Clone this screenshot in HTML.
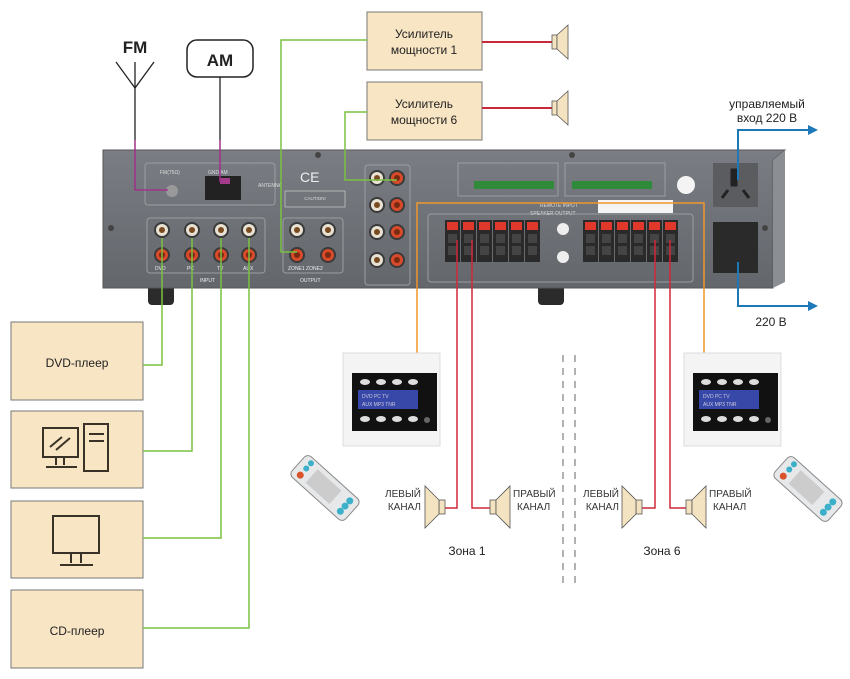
<!DOCTYPE html>
<html><head><meta charset="utf-8"><style>
html,body{margin:0;padding:0;background:#fff;}
svg{display:block;font-family:"Liberation Sans","DejaVu Sans",sans-serif;}
</style></head><body>
<svg width="850" height="679" viewBox="0 0 850 679" xmlns="http://www.w3.org/2000/svg">
<defs>
<linearGradient id="body" x1="0" y1="0" x2="0" y2="1"><stop offset="0" stop-color="#7a7e84"/><stop offset="1" stop-color="#63676c"/></linearGradient>
<g id="rcaW"><circle r="8" fill="#3a3a3a"/><circle r="6" fill="#e8e2d4"/><circle r="3" fill="#7a4a20"/></g>
<g id="rcaR"><circle r="8" fill="#3a3a3a"/><circle r="6" fill="#d84a2a"/><circle r="3" fill="#7a2a10"/></g>
<g id="term"><rect x="0" y="0" width="15" height="42" fill="#2a2a2a"/><rect x="2" y="2" width="11" height="8" fill="#e0392b"/><rect x="3" y="14" width="9" height="9" fill="#444"/><rect x="3" y="26" width="9" height="9" fill="#444"/></g>
<g id="spkL"><rect x="14" y="8" width="6" height="14" fill="#f3e3c0" stroke="#555" stroke-width="0.8"/><path d="M14 8 L0 -6 L0 36 L14 22 Z" fill="#f3e3c0" stroke="#555" stroke-width="0.8"/></g>
<g id="spkR"><rect x="0" y="8" width="6" height="14" fill="#f3e3c0" stroke="#555" stroke-width="0.8"/><path d="M6 8 L20 -6 L20 36 L6 22 Z" fill="#f3e3c0" stroke="#555" stroke-width="0.8"/></g>
<g id="ctrl">
<rect x="0" y="0" width="97" height="93" fill="#f4f4f4" stroke="#ddd"/>
<rect x="9" y="20" width="85" height="58" fill="#111"/>
<ellipse cx="22" cy="29" rx="5" ry="3" fill="#ddd"/><ellipse cx="38" cy="29" rx="5" ry="3" fill="#ddd"/><ellipse cx="54" cy="29" rx="5" ry="3" fill="#ddd"/><ellipse cx="70" cy="29" rx="5" ry="3" fill="#ddd"/>
<rect x="15" y="37" width="60" height="19" fill="#3848a8"/>
<text x="19" y="45" font-size="5" fill="#ccd">DVD  PC  TV</text><text x="19" y="53" font-size="5" fill="#ccd">AUX MP3 TNR</text>
<ellipse cx="22" cy="66" rx="5" ry="3" fill="#ddd"/><ellipse cx="38" cy="66" rx="5" ry="3" fill="#ddd"/><ellipse cx="54" cy="66" rx="5" ry="3" fill="#ddd"/><ellipse cx="70" cy="66" rx="5" ry="3" fill="#ddd"/><circle cx="84" cy="67" r="3" fill="#666"/>
</g>
<g id="remote"><rect x="-14" y="-36" width="28" height="72" rx="5" fill="#e6e8ea" stroke="#888"/>
<circle cx="-7" cy="-27" r="3.5" fill="#d9542c"/><circle cx="2" cy="-27" r="3" fill="#3bb0c8"/><circle cx="9" cy="-27" r="3" fill="#3bb0c8"/>
<rect x="-9" y="-18" width="18" height="32" fill="#ccc"/>
<circle cx="-7" cy="27" r="3.5" fill="#3bb0c8"/><circle cx="0" cy="27" r="3.5" fill="#3bb0c8"/><circle cx="7" cy="27" r="3.5" fill="#3bb0c8"/></g>
</defs>

<rect x="367" y="12" width="115" height="58" fill="#f8e5c4" stroke="#777"/>
<text x="424" y="38" font-size="12" text-anchor="middle" fill="#222">Усилитель</text>
<text x="424" y="54" font-size="12" text-anchor="middle" fill="#222">мощности 1</text>
<rect x="367" y="82" width="115" height="58" fill="#f8e5c4" stroke="#777"/>
<text x="424" y="108" font-size="12" text-anchor="middle" fill="#222">Усилитель</text>
<text x="424" y="124" font-size="12" text-anchor="middle" fill="#222">мощности 6</text>
<line x1="482" y1="42" x2="552" y2="42" stroke="#c8283a" stroke-width="2"/>
<line x1="482" y1="108" x2="552" y2="108" stroke="#c8283a" stroke-width="2"/>
<g transform="translate(552,29)"><rect x="0" y="6" width="5" height="14" fill="#f3e3c0" stroke="#555" stroke-width="0.8"/><path d="M5 6 L16 -4 L16 30 L5 20Z" fill="#f3e3c0" stroke="#555" stroke-width="0.8"/></g>
<g transform="translate(552,95)"><rect x="0" y="6" width="5" height="14" fill="#f3e3c0" stroke="#555" stroke-width="0.8"/><path d="M5 6 L16 -4 L16 30 L5 20Z" fill="#f3e3c0" stroke="#555" stroke-width="0.8"/></g>

<text x="135" y="53" font-size="17" font-weight="bold" text-anchor="middle" fill="#222">FM</text>
<path d="M116 62 L135 88 L154 62" fill="none" stroke="#222" stroke-width="1.3"/>
<line x1="135" y1="62" x2="135" y2="88" stroke="#222" stroke-width="1.3"/>
<line x1="135" y1="88" x2="135" y2="140" stroke="#222" stroke-width="1.3"/>
<rect x="187" y="40" width="66" height="37" rx="10" fill="#fff" stroke="#222" stroke-width="1.5"/>
<text x="220" y="66" font-size="17" font-weight="bold" text-anchor="middle" fill="#222">AM</text>
<line x1="220" y1="77" x2="220" y2="140" stroke="#222" stroke-width="1.3"/>

<text x="767" y="108" font-size="12" text-anchor="middle" fill="#222">управляемый</text>
<text x="767" y="122" font-size="12" text-anchor="middle" fill="#222">вход 220 В</text>
<text x="771" y="326" font-size="12" text-anchor="middle" fill="#222">220 В</text>

<rect x="148" y="285" width="26" height="20" rx="4" fill="#2b2b2b"/>
<rect x="538" y="285" width="26" height="20" rx="4" fill="#2b2b2b"/>
<path d="M103 150 L785 150 L773 160 L773 288 L103 288 Z" fill="url(#body)" stroke="#555"/>
<path d="M773 160 L785 150 L785 282 L773 288Z" fill="#8b8f94"/>
<rect x="145" y="163" width="130" height="42" rx="3" fill="none" stroke="#9a9ea2"/>
<text x="160" y="174" font-size="5" fill="#ddd">FM(75Ω)</text><text x="208" y="174" font-size="5" fill="#ddd">GND  AM</text>
<text x="258" y="187" font-size="5" fill="#ddd">ANTENNA</text>
<circle cx="172" cy="191" r="6" fill="#999"/><rect x="205" y="176" width="36" height="24" fill="#222"/><rect x="220" y="178" width="10" height="6" fill="#a43a8a"/>
<text x="300" y="182" font-size="14" fill="#eee">CE</text>
<rect x="285" y="191" width="60" height="16" fill="none" stroke="#ccc" stroke-width="0.7"/>
<text x="315" y="200" font-size="4.5" fill="#ddd" text-anchor="middle">CAUTION!</text>
<rect x="147" y="218" width="118" height="55" rx="3" fill="none" stroke="#9a9ea2"/>
<rect x="283" y="218" width="60" height="55" rx="3" fill="none" stroke="#9a9ea2"/>
<rect x="365" y="165" width="45" height="120" rx="3" fill="none" stroke="#9a9ea2"/>
<use href="#rcaW" x="162" y="230"/><use href="#rcaR" x="162" y="255"/>
<use href="#rcaW" x="192" y="230"/><use href="#rcaR" x="192" y="255"/>
<use href="#rcaW" x="221" y="230"/><use href="#rcaR" x="221" y="255"/>
<use href="#rcaW" x="249" y="230"/><use href="#rcaR" x="249" y="255"/>
<use href="#rcaW" x="297" y="230"/><use href="#rcaR" x="297" y="255"/>
<use href="#rcaW" x="328" y="230"/><use href="#rcaR" x="328" y="255"/>
<use href="#rcaW" x="377" y="178"/><use href="#rcaR" x="397" y="178"/>
<use href="#rcaW" x="377" y="205"/><use href="#rcaR" x="397" y="205"/>
<use href="#rcaW" x="377" y="232"/><use href="#rcaR" x="397" y="232"/>
<use href="#rcaW" x="377" y="260"/><use href="#rcaR" x="397" y="260"/>
<text x="155" y="270" font-size="5" fill="#eee">DVD</text><text x="187" y="270" font-size="5" fill="#eee">PC</text><text x="217" y="270" font-size="5" fill="#eee">TV</text><text x="243" y="270" font-size="5" fill="#eee">AUX</text>
<text x="200" y="282" font-size="5" fill="#eee">INPUT</text><text x="300" y="282" font-size="5" fill="#eee">OUTPUT</text>
<text x="288" y="270" font-size="5" fill="#eee">ZONE1  ZONE2</text>
<rect x="458" y="163" width="100" height="33" fill="none" stroke="#9a9ea2"/>
<rect x="565" y="163" width="100" height="33" fill="none" stroke="#9a9ea2"/>
<rect x="474" y="181" width="80" height="8" fill="#2f8a3a"/><rect x="572" y="181" width="80" height="8" fill="#2f8a3a"/>
<text x="540" y="207" font-size="5" fill="#ddd">REMOTE INPUT</text>
<text x="530" y="215" font-size="5" fill="#ddd">SPEAKER OUTPUT</text>
<rect x="598" y="200" width="75" height="13" fill="#f4f4f4"/>
<rect x="428" y="214" width="265" height="68" rx="3" fill="none" stroke="#9a9ea2"/>
<g><use href="#term" x="445" y="220"/><use href="#term" x="461" y="220"/><use href="#term" x="477" y="220"/><use href="#term" x="493" y="220"/><use href="#term" x="509" y="220"/><use href="#term" x="525" y="220"/></g>
<g><use href="#term" x="583" y="220"/><use href="#term" x="599" y="220"/><use href="#term" x="615" y="220"/><use href="#term" x="631" y="220"/><use href="#term" x="647" y="220"/><use href="#term" x="663" y="220"/></g>
<circle cx="563" cy="229" r="6" fill="#eee"/><circle cx="563" cy="257" r="6" fill="#eee"/>
<circle cx="686" cy="185" r="9" fill="#f4f4f4"/>
<rect x="713" y="163" width="45" height="44" fill="#5a5c5f"/>
<path d="M732 170 L736 170 L736 185 L732 185Z M722 198 L728 190 M749 198 L743 190" stroke="#222" stroke-width="3" fill="#222"/>
<rect x="713" y="222" width="45" height="51" fill="#2a2a2a"/>
<circle cx="111" cy="228" r="3" fill="#444"/><circle cx="765" cy="228" r="3" fill="#444"/><circle cx="318" cy="155" r="3" fill="#444"/><circle cx="572" cy="155" r="3" fill="#444"/>

<polyline points="135,140 135,190 168,190" fill="none" stroke="#a0308a" stroke-width="1.5"/>
<polyline points="220,140 220,182" fill="none" stroke="#a0308a" stroke-width="1.5"/>
<polyline points="367,40 281,40 281,252 297,252" fill="none" stroke="#7ac142" stroke-width="1.5"/>
<polyline points="367,112 345,112 345,180 397,180" fill="none" stroke="#7ac142" stroke-width="1.5"/>
<rect x="11" y="322" width="132" height="78" fill="#f8e5c4" stroke="#777"/>
<text x="77" y="367" font-size="12" text-anchor="middle" fill="#222">DVD-плеер</text>
<rect x="11" y="411" width="132" height="77" fill="#f8e5c4" stroke="#777"/>
<rect x="11" y="501" width="132" height="77" fill="#f8e5c4" stroke="#777"/>
<rect x="11" y="590" width="132" height="78" fill="#f8e5c4" stroke="#777"/>
<text x="77" y="635" font-size="12" text-anchor="middle" fill="#222">CD-плеер</text>
<g fill="none" stroke="#3a3226" stroke-width="2">
<rect x="43" y="428" width="35" height="29"/><line x1="56" y1="457" x2="56" y2="465"/><line x1="64" y1="457" x2="64" y2="465"/><line x1="46" y1="467" x2="77" y2="467"/>
<line x1="50" y1="447" x2="62" y2="437"/><line x1="56" y1="450" x2="70" y2="438"/>
<rect x="84" y="424" width="24" height="47"/><line x1="89" y1="434" x2="104" y2="434"/><line x1="89" y1="441" x2="104" y2="441"/>
<rect x="53" y="516" width="46" height="37"/><line x1="71" y1="553" x2="71" y2="563"/><line x1="81" y1="553" x2="81" y2="563"/><line x1="60" y1="565" x2="93" y2="565"/>
</g>
<g fill="none" stroke="#7ac142" stroke-width="1.5">
<polyline points="162,238 162,365 143,365"/>
<polyline points="192,238 192,451 143,451"/>
<polyline points="221,238 221,538 143,538"/>
<polyline points="249,238 249,628 143,628"/>
</g>
<polyline points="417,353 417,203 704,203 704,355" fill="none" stroke="#f0962c" stroke-width="1.5"/>
<polyline points="738,180 738,130 808,130" fill="none" stroke="#1e78b8" stroke-width="2"/>
<path d="M808 125 L818 130 L808 135Z" fill="#1e78b8"/>
<polyline points="738,262 738,306 808,306" fill="none" stroke="#1e78b8" stroke-width="2"/>
<path d="M808 301 L818 306 L808 311Z" fill="#1e78b8"/>
<g fill="none" stroke="#d0283a" stroke-width="1.5">
<polyline points="457,240 457,508 445,508"/>
<polyline points="472,240 472,508 490,508"/>
<polyline points="655,240 655,508 642,508"/>
<polyline points="670,240 670,508 686,508"/>
</g>
<use href="#ctrl" x="343" y="353"/>
<use href="#ctrl" x="684" y="353"/>
<g transform="translate(325,488) rotate(-48)"><use href="#remote"/></g>
<g transform="translate(808,489) rotate(-48)"><use href="#remote"/></g>
<g transform="translate(425,492)"><use href="#spkL"/></g>
<g transform="translate(490,492)"><use href="#spkR"/></g>
<g transform="translate(622,492)"><use href="#spkL"/></g>
<g transform="translate(686,492)"><use href="#spkR"/></g>
<g font-size="10" fill="#333">
<text x="421" y="497" text-anchor="end">ЛЕВЫЙ</text><text x="421" y="510" text-anchor="end">КАНАЛ</text>
<text x="513" y="497">ПРАВЫЙ</text><text x="517" y="510">КАНАЛ</text>
<text x="619" y="497" text-anchor="end">ЛЕВЫЙ</text><text x="619" y="510" text-anchor="end">КАНАЛ</text>
<text x="709" y="497">ПРАВЫЙ</text><text x="713" y="510">КАНАЛ</text>
</g>
<text x="467" y="555" font-size="12" text-anchor="middle" fill="#222">Зона 1</text>
<text x="662" y="555" font-size="12" text-anchor="middle" fill="#222">Зона 6</text>
<line x1="563" y1="355" x2="563" y2="585" stroke="#666" stroke-dasharray="7,6"/>
<line x1="575" y1="355" x2="575" y2="585" stroke="#666" stroke-dasharray="7,6"/>
</svg>
</body></html>
